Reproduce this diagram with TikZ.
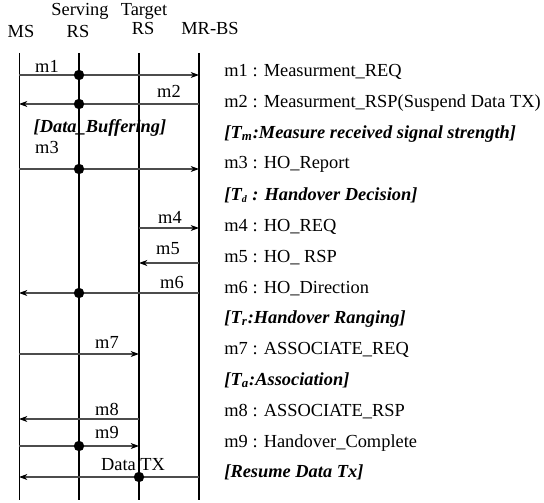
\documentclass[tikz,border=0pt]{standalone}
\usepackage{fontspec}
\setmainfont{Liberation Serif}
\usetikzlibrary{arrows.meta}

\begin{document}
\begin{tikzpicture}[x=0.5pt, y=-0.5pt,
  every node/.style={font=\fontsize{9.2}{11}\selectfont, inner sep=0pt},
  life/.style={line width=1pt},
  msg/.style={line width=0.55pt, black!70, -{Stealth[length=4.2pt, width=3pt, black]}},
  dot/.style={circle, fill, inner sep=0pt, minimum size=5.2pt},
  lbl/.style={anchor=base},
  desc/.style={anchor=base west},
  phase/.style={anchor=base west, font=\fontsize{9.2}{11}\selectfont\bfseries\itshape}
]
  \useasboundingbox (0,0) rectangle (544,502);

  \node[lbl] (hms) at (21,38) {MS};
  \node[lbl] (hsrs1) at (80,16) {Serving};
  \node[lbl] (hsrs2) at (78,38) {RS};
  \node[lbl] (htrs1) at (144,16) {Target};
  \node[lbl] (htrs2) at (143,35) {RS};
  \node[lbl] (hbs) at (210,35) {MR-BS};

  \coordinate (ms-t) at (19,53);   \coordinate (ms-b) at (19,500);
  \coordinate (srs-t) at (79,53);  \coordinate (srs-b) at (79,500);
  \coordinate (trs-t) at (139,53); \coordinate (trs-b) at (139,500);
  \coordinate (bs-t) at (199,53);  \coordinate (bs-b) at (199,500);
  \draw[line width=0.5pt] (ms-t) -- (ms-b);
  \draw[life] (srs-t) -- (srs-b);
  \draw[life] (trs-t) -- (trs-b);
  \draw[life] (bs-t) -- (bs-b);

  \coordinate (m1a) at (19,75);   \coordinate (m1b) at (199,75);
  \coordinate (m2a) at (199,104); \coordinate (m2b) at (19,104);
  \coordinate (m3a) at (19,169);  \coordinate (m3b) at (199,169);
  \coordinate (m4a) at (139,228); \coordinate (m4b) at (199,228);
  \coordinate (m5a) at (199,263); \coordinate (m5b) at (139,263);
  \coordinate (m6a) at (199,293); \coordinate (m6b) at (19,293);
  \coordinate (m7a) at (19,354);  \coordinate (m7b) at (139,354);
  \coordinate (m8a) at (139,419); \coordinate (m8b) at (19,419);
  \coordinate (m9a) at (19,446);  \coordinate (m9b) at (139,446);
  \coordinate (txa) at (199,477); \coordinate (txb) at (19,477);

  \draw[msg] (m1a) -- (m1b);
  \draw[msg] (m2a) -- (m2b);
  \draw[msg] (m3a) -- (m3b);
  \draw[msg] (m4a) -- (m4b);
  \draw[msg] (m5a) -- (m5b);
  \draw[msg] (m6a) -- (m6b);
  \draw[msg] (m7a) -- (m7b);
  \draw[msg] (m8a) -- (m8b);
  \draw[msg] (m9a) -- (m9b);
  \draw[msg] (txa) -- (txb);

  \node[dot] (d1) at (79,75) {};
  \node[dot] (d2) at (79,104) {};
  \node[dot] (d3) at (79,169) {};
  \node[dot] (d6) at (79,293) {};
  \node[dot] (d9) at (79,446) {};
  \node[dot] (dtx) at (139,477) {};

  \node[lbl] (l1) at (47,73) {m1};
  \node[lbl] (l2) at (169,98) {m2};
  \node[lbl, font=\fontsize{9.2}{11}\selectfont\bfseries\itshape] (buf) at (100,133) {[Data\_Buffering]};
  \node[lbl] (l3) at (47,154) {m3};
  \node[lbl] (l4) at (170,223) {m4};
  \node[lbl] (l5) at (168,254) {m5};
  \node[lbl] (l6) at (172,288) {m6};
  \node[lbl] (l7) at (107,348) {m7};
  \node[lbl] (l8) at (107,415) {m8};
  \node[lbl] (l9) at (107,438) {m9};
  \node[lbl] (ltx) at (133,470) {Data TX};

  \node[desc] (t1) at (224,77) {m1 : Measurment\_REQ};
  \node[desc] (t2) at (224,108) {m2 : Measurment\_RSP(Suspend Data TX)};
  \node[phase] (t3) at (224,139) {[T\textsubscript{m}:Measure received signal strength]};
  \node[desc] (t4) at (224,169) {m3 : HO\_Report};
  \node[phase] (t5) at (224,200) {[T\textsubscript{\tiny d} : Handover Decision]};
  \node[desc] (t6) at (224,231) {m4 : HO\_REQ};
  \node[desc] (t7) at (224,262) {m5 : HO\_ RSP};
  \node[desc] (t8) at (224,293) {m6 : HO\_Direction};
  \node[phase] (t9) at (224,323) {[T\textsubscript{r}:Handover Ranging]};
  \node[desc] (t10) at (224,354) {m7 : ASSOCIATE\_REQ};
  \node[phase] (t11) at (224,385) {[T\textsubscript{a}:Association]};
  \node[desc] (t12) at (224,416) {m8 : ASSOCIATE\_RSP};
  \node[desc] (t13) at (224,447) {m9 : Handover\_Complete};
  \node[phase] (t14) at (224,477) {[Resume Data Tx]};
\end{tikzpicture}
\end{document}
